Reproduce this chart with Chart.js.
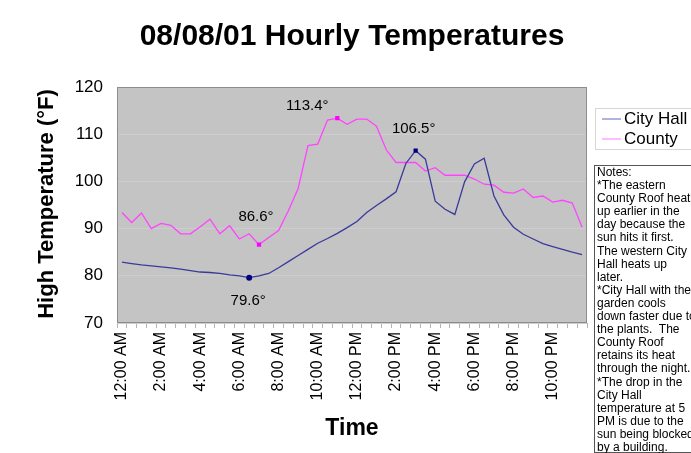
<!DOCTYPE html>
<html>
<head>
<meta charset="utf-8">
<script src="https://cdn.jsdelivr.net/npm/chart.js@4.4.0/dist/chart.umd.min.js"></script>
<style>
  body { margin: 0; background: #fff; }
  #wrap { position: relative; width: 691px; height: 453px; overflow: hidden; }
  #notes {
    position: absolute; left: 594px; top: 165px; width: 110px; height: 288px;
    box-sizing: border-box; border: 1px solid #555; padding-left: 2px;
    font: 12px "Liberation Sans", Arial, sans-serif; line-height: 13.1px;
    white-space: nowrap; color: #000;
  }
</style>
</head>
<body>
<div id="wrap">
  <canvas id="chart"></canvas>
  <div id="notes">Notes:<br>*The eastern<br>County Roof heats<br>up earlier in the<br>day because the<br>sun hits it first.<br>The western City<br>Hall heats up<br>later.<br>*City Hall with the<br>garden cools<br>down faster due to<br>the plants.&nbsp; The<br>County Roof<br>retains its heat<br>through the night.<br>*The drop in the<br>City Hall<br>temperature at 5<br>PM is due to the<br>sun being blocked<br>by a building.</div>
</div>
<script>
const times = [
  '12:00 AM', '12:30 AM', '1:00 AM', '1:30 AM', '2:00 AM', '2:30 AM', '3:00 AM', '3:30 AM',
  '4:00 AM', '4:30 AM', '5:00 AM', '5:30 AM', '6:00 AM', '6:30 AM', '7:00 AM', '7:30 AM',
  '8:00 AM', '8:30 AM', '9:00 AM', '9:30 AM', '10:00 AM', '10:30 AM', '11:00 AM', '11:30 AM',
  '12:00 PM', '12:30 PM', '1:00 PM', '1:30 PM', '2:00 PM', '2:30 PM', '3:00 PM', '3:30 PM',
  '4:00 PM', '4:30 PM', '5:00 PM', '5:30 PM', '6:00 PM', '6:30 PM', '7:00 PM', '7:30 PM',
  '8:00 PM', '8:30 PM', '9:00 PM', '9:30 PM', '10:00 PM', '10:30 PM', '11:00 PM', '11:30 PM'
];

const cityHall = [
  82.9, 82.6, 82.3, 82.1, 81.9, 81.7, 81.4, 81.1, 80.8, 80.7,
  80.5, 80.2, 80.0, 79.6, 80.0, 80.5, 81.7, 83.0, 84.3, 85.6,
  86.9, 87.9, 89.0, 90.2, 91.5, 93.4, 94.9, 96.3, 97.8, 103.8,
  106.5, 104.7, 95.8, 94.1, 93.0, 99.9, 103.7, 104.9, 96.9, 92.9,
  90.3, 88.8, 87.8, 86.8, 86.2, 85.6, 85.0, 84.5
];

const county = [
  93.4, 91.3, 93.3, 90.0, 91.1, 90.7, 88.9, 88.9, 90.4, 92.0,
  88.9, 90.6, 87.8, 88.9, 86.6, 88.1, 89.6, 93.8, 98.5, 107.6,
  107.9, 113.0, 113.4, 112.1, 113.2, 113.2, 111.7, 106.7, 104.0, 104.0,
  104.0, 102.2, 102.9, 101.3, 101.3, 101.3, 100.5, 99.4, 99.2, 97.7,
  97.5, 98.4, 96.6, 96.9, 95.6, 96.0, 95.4, 90.3
];

// points that get a marker and a value label (min / max of each series)
const cityMarks = [13, 30];
const countyMarks = [14, 22];

const FONT = '"Liberation Sans", Arial, sans-serif';
Chart.defaults.font.family = FONT;
Chart.defaults.color = '#000';

// grey plot area, frame, y title and the legend box
const plotFrame = {
  id: 'plotFrame',
  beforeDraw(chart) {
    const {ctx, chartArea: a} = chart;
    ctx.save();
    ctx.fillStyle = '#c4c4c4';
    ctx.fillRect(a.left, a.top, a.right - a.left, a.bottom - a.top);
    ctx.restore();
  },
  afterDraw(chart) {
    const {ctx, chartArea: a} = chart;
    ctx.save();
    ctx.strokeStyle = '#8c8c8c';
    ctx.lineWidth = 1;
    ctx.strokeRect(a.left + 0.5, a.top + 0.5, a.right - a.left - 1, a.bottom - a.top - 1);

    // y axis title
    ctx.save();
    ctx.translate(47, 204);
    ctx.rotate(-Math.PI / 2);
    ctx.font = 'bold 22px ' + FONT;
    ctx.fillStyle = '#000';
    ctx.textAlign = 'center';
    ctx.textBaseline = 'middle';
    ctx.fillText('High Temperature (°F)', 0, 0);
    ctx.restore();

    // legend
    ctx.strokeStyle = '#d6d6d6';
    ctx.strokeRect(595.5, 108.5, 110, 41);
    ctx.font = '17px ' + FONT;
    ctx.textBaseline = 'middle';
    ctx.textAlign = 'left';
    chart.data.datasets.forEach((ds, i) => {
      const y = 119 + i * 20;
      ctx.strokeStyle = ds.legendColor;
      ctx.lineWidth = 1.3;
      ctx.beginPath();
      ctx.moveTo(602, y);
      ctx.lineTo(621, y);
      ctx.stroke();
      ctx.fillStyle = '#000';
      ctx.fillText(ds.label, 624, y);
    });
    ctx.restore();
  }
};

const valueLabels = {
  id: 'valueLabels',
  afterDatasetsDraw(chart) {
    const ctx = chart.ctx;
    ctx.save();
    ctx.font = '15px ' + FONT;
    ctx.fillStyle = '#000';
    ctx.textAlign = 'center';
    ctx.textBaseline = 'middle';
    chart.data.datasets.forEach((ds, di) => {
      const meta = chart.getDatasetMeta(di);
      ds.marks.forEach((idx, k) => {
        const pt = meta.data[idx];
        const off = ds.labelOffsets[k];
        ctx.fillText(ds.data[idx].toFixed(1) + '°', pt.x + off[0], pt.y + off[1]);
      });
    });
    ctx.restore();
  }
};

new Chart(document.getElementById('chart'), {
  type: 'line',
  data: {
    labels: times,
    datasets: [{
      label: 'City Hall',
      data: cityHall,
      borderColor: '#3a3a9c',
      legendColor: '#8888cc',
      borderWidth: 1.3,
      tension: 0,
      marks: cityMarks,
      labelOffsets: [[-1, 23], [-2, -22]],
      pointRadius: cityHall.map((v, i) => cityMarks.includes(i) ? 3 : 0),
      pointStyle: cityHall.map((v, i) => i === cityMarks[0] ? 'circle' : 'rect'),
      pointBackgroundColor: '#000080',
      pointBorderColor: '#000080',
      pointBorderWidth: 0
    }, {
      label: 'County',
      data: county,
      borderColor: '#ff44ff',
      legendColor: '#ff99ff',
      borderWidth: 1.3,
      tension: 0,
      marks: countyMarks,
      labelOffsets: [[-3, -28], [-30, -12]],
      pointRadius: county.map((v, i) => countyMarks.includes(i) ? 3 : 0),
      pointStyle: 'rect',
      pointBackgroundColor: '#ff00ff',
      pointBorderColor: '#ff00ff',
      pointBorderWidth: 0
    }]
  },
  options: {
    responsive: true,
    maintainAspectRatio: false,
    animation: false,
    layout: { padding: { top: 0, right: 104, bottom: 0, left: 0 } },
    plugins: {
      legend: { display: false },
      tooltip: { enabled: false },
      title: {
        display: true,
        fullSize: false,
        text: '08/08/01 Hourly Temperatures',
        font: { size: 30, weight: 'bold' },
        color: '#000',
        padding: { top: 19, bottom: 32 }
      }
    },
    scales: {
      x: {
        offset: true,
        grid: { offset: true, drawOnChartArea: false, drawTicks: true, tickLength: 5, color: '#b4b4b4' },
        border: { display: false },
        ticks: {
          autoSkip: false,
          maxRotation: 90,
          minRotation: 90,
          padding: 4,
          font: { size: 16 },
          callback(value, index) {
            return index % 4 === 0 ? this.getLabelForValue(value) : '';
          }
        },
        title: {
          display: true,
          text: 'Time',
          font: { size: 23, weight: 'bold' },
          padding: { top: 0, bottom: 11 }
        },
        afterFit(scale) { scale.height = 130; }
      },
      y: {
        min: 70,
        max: 120,
        ticks: { stepSize: 10, padding: 14, font: { size: 17 } },
        grid: { drawTicks: false, color: '#cdcdcd' },
        border: { display: false },
        afterFit(scale) { scale.width = 117; }
      }
    }
  },
  plugins: [plotFrame, valueLabels]
});
</script>
</body>
</html>
